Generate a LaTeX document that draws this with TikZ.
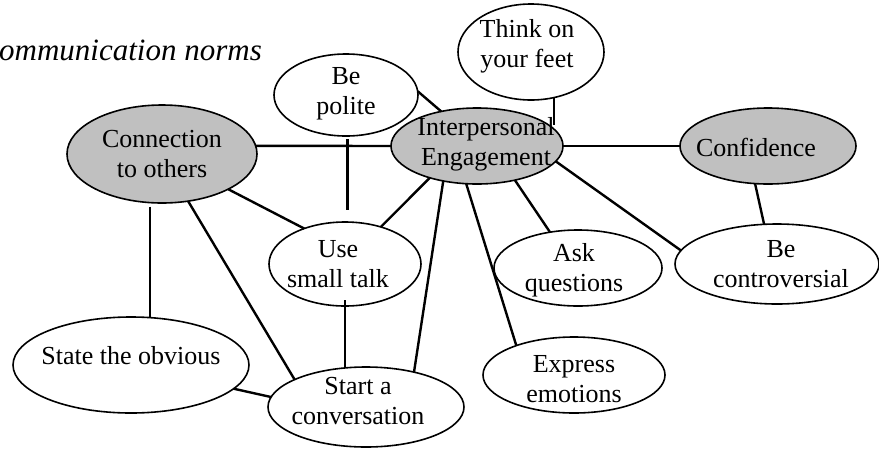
\documentclass[tikz,border=0pt]{standalone}
\usepackage{fontspec}
\setmainfont{Liberation Serif}
\usetikzlibrary{shapes.geometric}
\definecolor{shade}{RGB}{192,192,192}
\tikzset{
  bub/.style={ellipse, draw=black, line width=1.6pt, fill=white, inner sep=0pt, outer sep=0pt},
  gbub/.style={bub, fill=shade},
  txt/.style={font=\fontsize{26}{30}\selectfont, align=center, inner sep=0pt},
  conn/.style={line width=2.4pt}
}
\begin{document}
\begin{tikzpicture}[x=1pt, y=-1pt]
\useasboundingbox (0,0) rectangle (879,448);
\fill[white] (0,0) rectangle (879,448);

\node[anchor=base west, inner sep=0pt, font=\fontsize{31}{34}\selectfont\itshape] (title) at (-1,60) {ommunication norms};

\node[gbub, minimum width=190pt, minimum height=98pt, label={[txt]center:Connection\\to others}] (co) at (162,154) {};
\node[bub, minimum width=144pt, minimum height=82pt, label={[txt, yshift=1pt]center:Be\\polite}] (bp) at (346,95) {};
\node[gbub, minimum width=172pt, minimum height=76pt, label={[txt, xshift=9pt, yshift=2pt]center:Interpersonal\\Engagement}] (ie) at (477,146) {};
\node[bub, minimum width=146pt, minimum height=96pt, label={[txt, xshift=-4pt, yshift=6pt]center:Think on\\your feet}] (tf) at (531,52) {};
\node[gbub, minimum width=176pt, minimum height=76pt, label={[txt, xshift=-12pt, yshift=-1pt]center:Confidence}] (cf) at (768,146) {};
\node[bub, minimum width=152pt, minimum height=84pt, label={[txt, xshift=-7pt]center:Use\\small talk}] (ut) at (345,264) {};
\node[bub, minimum width=236pt, minimum height=96pt, label={[txt, yshift=9pt]center:State the obvious}] (so) at (131,365) {};
\node[bub, minimum width=196pt, minimum height=80pt, label={[txt, xshift=-8pt, yshift=6pt]center:Start a\\conversation}] (sc) at (366,407) {};
\node[bub, minimum width=168pt, minimum height=76pt, label={[txt, xshift=-4pt, yshift=-2pt]center:Ask\\questions}] (aq) at (578,268) {};
\node[bub, minimum width=204pt, minimum height=80pt, label={[txt, xshift=4pt]center:Be\\controversial}] (bc) at (777,264) {};
\node[bub, minimum width=182pt, minimum height=76pt, label={[txt, yshift=-4pt]center:Express\\emotions}] (ee) at (574,375) {};

\draw[conn] (co.5) -- (ie.180);
\draw[conn] (bp.3) -- (ie.136);
\draw[conn] (tf.-63) -- (tf.-63 |- ie.16);
\draw[conn] (ie.0) -- (cf.180);
\draw[conn, shorten <=3pt, shorten >=12pt] (bp.-88) -- (bp.-88 |- ut.north);
\draw[conn] (co.-28.5) -- (ut.139.4);
\draw[conn] (ie.214) -- (ut.46.4);
\draw[conn] (ie.226.8) -- (sc.36.5);
\draw[conn] (ie.254) -- (ee.153);
\draw[conn] (ie.-42.2) -- (aq.128.5);
\draw[conn] (ie.-11.6) -- (bc.172.2);
\draw[conn] (cf.251.6) -- (bc.108.4);
\draw[conn, shorten <=4pt] (co.256) -- (co.256 |- so.north);
\draw[conn] (co.-61.5) -- (sc.159.7);
\draw[conn, shorten <=-6pt] (ut.south) -- (ut.south |- sc.north);
\draw[conn] (so.-13.6) -- (sc.174);
\end{tikzpicture}
\end{document}
